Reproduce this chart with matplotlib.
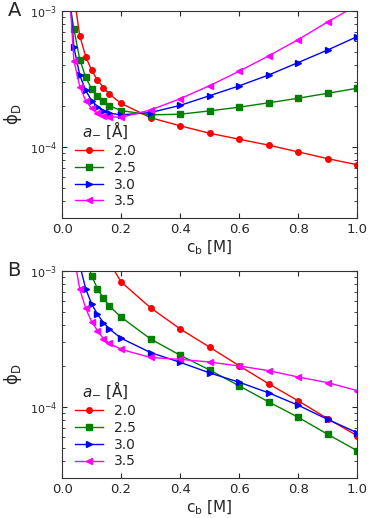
import matplotlib
matplotlib.use('Agg')
import matplotlib.pyplot as plt
import numpy as np

# salt concentration c_b [M]
cb_a = [0.02, 0.04, 0.06, 0.08, 0.10, 0.12, 0.14, 0.16, 0.2, 0.3, 0.4, 0.5, 0.6, 0.7, 0.8, 0.9, 1.0]
cb_b = [0.04, 0.06, 0.08, 0.10, 0.12, 0.14, 0.16, 0.2, 0.3, 0.4, 0.5, 0.6, 0.7, 0.8, 0.9, 1.0]
labels = ['2.0', '2.5', '3.0', '3.5']

# panel A
phiA_20 = [3.0e-3, 1.3e-3, 6.55e-4, 4.62e-4, 3.66e-4, 3.09e-4, 2.73e-4, 2.45e-4, 2.09e-4, 1.64e-4,
           1.43e-4, 1.26e-4, 1.14e-4, 1.03e-4, 9.2e-5, 8.2e-5, 7.4e-5]
phiA_25 = [1.4e-3, 7.33e-4, 4.39e-4, 3.25e-4, 2.67e-4, 2.36e-4, 2.16e-4, 2.01e-4, 1.85e-4, 1.72e-4,
           1.74e-4, 1.84e-4, 1.96e-4, 2.11e-4, 2.28e-4, 2.48e-4, 2.70e-4]
phiA_30 = [1.9e-3, 5.41e-4, 3.36e-4, 2.60e-4, 2.19e-4, 1.98e-4, 1.85e-4, 1.77e-4, 1.72e-4, 1.79e-4,
           2.02e-4, 2.38e-4, 2.81e-4, 3.38e-4, 4.17e-4, 5.16e-4, 6.47e-4]
phiA_35 = [2.0e-3, 4.31e-4, 2.78e-4, 2.19e-4, 1.92e-4, 1.77e-4, 1.69e-4, 1.67e-4, 1.65e-4, 1.87e-4,
           2.26e-4, 2.82e-4, 3.60e-4, 4.67e-4, 6.15e-4, 8.30e-4, 1.10e-3]

# panel B
phiB_20 = [5.0e-3, 3.5e-3, 2.6e-3, 2.1e-3, 1.75e-3, 1.45e-3, 1.16e-3, 8.3e-4, 5.35e-4, 3.75e-4,
           2.75e-4, 2.01e-4, 1.48e-4, 1.11e-4, 8.2e-5, 6.15e-5]
phiB_25 = [2.6e-3, 1.8e-3, 1.25e-3, 9.2e-4, 7.4e-4, 6.3e-4, 5.53e-4, 4.57e-4, 3.16e-4, 2.40e-4,
           1.87e-4, 1.43e-4, 1.09e-4, 8.4e-5, 6.3e-5, 4.77e-5]
phiB_30 = [1.9e-3, 1.1e-3, 7.4e-4, 5.72e-4, 4.80e-4, 4.17e-4, 3.75e-4, 3.20e-4, 2.51e-4, 2.13e-4,
           1.78e-4, 1.52e-4, 1.27e-4, 1.03e-4, 8.1e-5, 6.47e-5]
phiB_35 = [1.3e-3, 7.33e-4, 5.31e-4, 4.24e-4, 3.64e-4, 3.18e-4, 2.94e-4, 2.65e-4, 2.31e-4, 2.24e-4,
           2.14e-4, 2.00e-4, 1.85e-4, 1.66e-4, 1.51e-4, 1.32e-4]

colors = ['red', 'green', 'blue', 'magenta']
markers = ['o', 's', '>', '<']

# dark grey text and frame
for key in ['text.color', 'axes.labelcolor', 'xtick.color', 'ytick.color']:
    plt.rcParams[key] = '#262626'
plt.rcParams['axes.edgecolor'] = '#333333'

fig = plt.figure(figsize=(3.74, 5.18), dpi=100)
axA = fig.add_axes([0.166, 0.579, 0.789, 0.400])
axB = fig.add_axes([0.166, 0.077, 0.789, 0.400])

panels = [(axA, cb_a, [phiA_20, phiA_25, phiA_30, phiA_35], 'A'),
          (axB, cb_b, [phiB_20, phiB_25, phiB_30, phiB_35], 'B')]

for ax, cb, series, tag in panels:
    for y, c, m, lab in zip(series, colors, markers, labels):
        ax.plot(cb, y, color=c, marker=m, markersize=4, linewidth=1, label=lab)
    ax.set_yscale('log')
    ax.set_xlim(0, 1.0)
    ax.set_ylim(3e-5, 1e-3)
    ax.set_xticks(np.arange(0, 1.01, 0.2))
    ax.tick_params(which='both', direction='in', top=True, right=True, labelsize=9.5)
    ax.tick_params(axis='y', which='major', labelsize=8)
    ax.set_xlabel(r'c$_\mathrm{b}$ [M]', fontsize=11, labelpad=2)
    ax.set_ylabel('ϕ$_\\mathrm{D}$', fontsize=12, labelpad=4)
    leg = ax.legend(loc='lower left', bbox_to_anchor=(0.01, 0.0), frameon=False, fontsize=10,
                    title=r'$a_{-}$ [Å]', title_fontsize=11, handlelength=2.0,
                    borderaxespad=0.3, labelspacing=0.2)
    fig.text(0.02, ax.get_position().y1, tag, fontsize=14, va='center', ha='left')

fig.savefig('out.png', dpi=100)
